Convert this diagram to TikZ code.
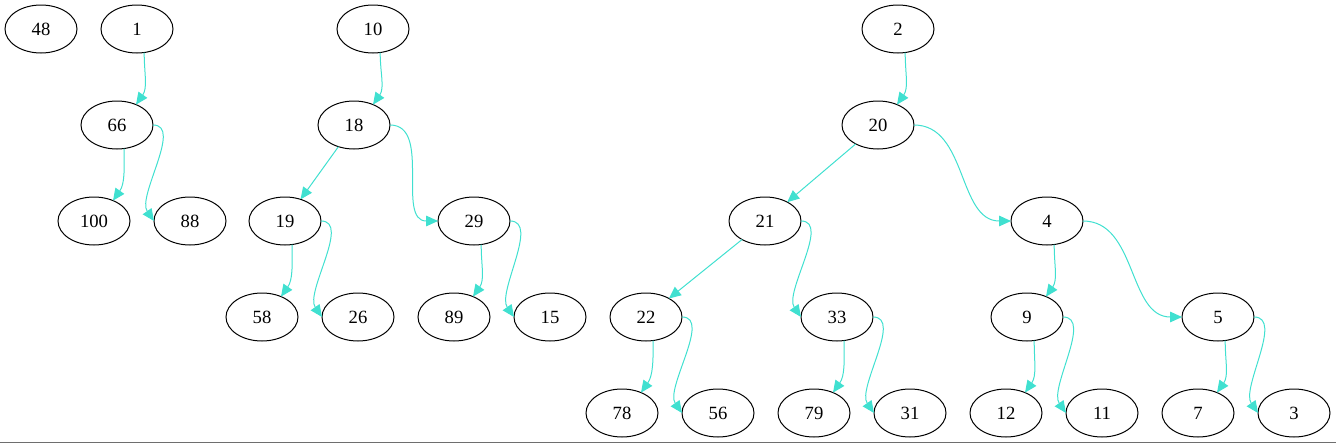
\documentclass[tikz,border=0pt]{standalone}
\usepackage{fontspec}
\setmainfont{Liberation Serif}
\usetikzlibrary{positioning,shapes.geometric,arrows.meta}
\definecolor{edgecyan}{HTML}{40E0D0}
\definecolor{framegray}{HTML}{6E6E6E}

\begin{document}
\begin{tikzpicture}[
    node distance=36pt and 18pt,
    key/.style={draw, ellipse, line width=0.75pt, minimum width=54pt, minimum height=36pt,
                inner sep=0pt, outer sep=0pt, font=\fontsize{14}{16}\selectfont},
    heaplink/.style={draw=edgecyan, line width=0.75pt, -{Triangle[length=9pt, width=8pt]}},
    tofirst/.style={out=-90, in=55},
    tonarrow/.style={out=0, in=125, looseness=0.8},
    towide/.style={out=0, in=180}
  ]
    \useasboundingbox (0,0) rectangle (1002pt,-332.25pt);

    % roots
    \node (n48) [key] at (30.75pt,-21.75pt) {48};
    \node (n1) [key, right=18pt of n48] {1};
    \node (n10) [key, right=123pt of n1] {10};
    \node (n2) [key, right=339.75pt of n10] {2};

    % tree of 1
    \node (n66) [key, below=of n1, xshift=-15pt] {66};
    \node (n100) [key, below=of n66, xshift=-17.25pt] {100};
    \node (n88) [key, below=of n66, xshift=54.75pt] {88};

    % tree of 10
    \node (n18) [key, below=of n10, xshift=-14.25pt] {18};
    \node (n19) [key, below=of n18, xshift=-51.75pt] {19};
    \node (n29) [key, below=of n18, xshift=90pt] {29};
    \node (n58) [key, below=of n19, xshift=-17.25pt] {58};
    \node (n26) [key, below=of n19, xshift=54.75pt] {26};
    \node (n89) [key, below=of n29, xshift=-15pt] {89};
    \node (n15) [key, below=of n29, xshift=57pt] {15};

    % tree of 2
    \node (n20) [key, below=of n2, xshift=-15pt] {20};
    \node (n21) [key, below=of n20, xshift=-84.75pt] {21};
    \node (n4) [key, below=of n20, xshift=126.75pt] {4};
    \node (n22) [key, below=of n21, xshift=-89.25pt] {22};
    \node (n33) [key, below=of n21, xshift=54pt] {33};
    \node (n9) [key, below=of n4, xshift=-15pt] {9};
    \node (n5) [key, below=of n4, xshift=128.25pt] {5};
    \node (n78) [key, below=of n22, xshift=-18pt] {78};
    \node (n56) [key, below=of n22, xshift=54pt] {56};
    \node (n79) [key, below=of n33, xshift=-17.25pt] {79};
    \node (n31) [key, below=of n33, xshift=54.75pt] {31};
    \node (n12) [key, below=of n9, xshift=-15.75pt] {12};
    \node (n11) [key, below=of n9, xshift=56.25pt] {11};
    \node (n7) [key, below=of n5, xshift=-15pt] {7};
    \node (n3) [key, below=of n5, xshift=57pt] {3};

    % first children
    \draw[heaplink] (n1.-73) to[tofirst] (n66.47);
    \draw[heaplink] (n66.-73) to[tofirst] (n100.47);
    \draw[heaplink] (n10.-73) to[tofirst] (n18.47);
    \draw[heaplink] (n19.-73) to[tofirst] (n58.47);
    \draw[heaplink] (n29.-73) to[tofirst] (n89.47);
    \draw[heaplink] (n2.-73) to[tofirst] (n20.47);
    \draw[heaplink] (n22.-73) to[tofirst] (n78.47);
    \draw[heaplink] (n33.-73) to[tofirst] (n79.47);
    \draw[heaplink] (n4.-73) to[tofirst] (n9.47);
    \draw[heaplink] (n9.-73) to[tofirst] (n12.47);
    \draw[heaplink] (n5.-73) to[tofirst] (n7.47);
    \draw[heaplink] (n18) -- (n19);
    \draw[heaplink] (n20) -- (n21);
    \draw[heaplink] (n21) -- (n22);

    % next siblings
    \draw[heaplink] (n66.east) to[tonarrow] (n88.west);
    \draw[heaplink] (n19.east) to[tonarrow] (n26.west);
    \draw[heaplink] (n29.east) to[tonarrow] (n15.west);
    \draw[heaplink] (n21.east) to[tonarrow] (n33.west);
    \draw[heaplink] (n22.east) to[tonarrow] (n56.west);
    \draw[heaplink] (n33.east) to[tonarrow] (n31.west);
    \draw[heaplink] (n9.east) to[tonarrow] (n11.west);
    \draw[heaplink] (n5.east) to[tonarrow] (n3.west);
    \draw[heaplink] (n18.east) to[towide] (n29.west);
    \draw[heaplink] (n20.east) to[towide] (n4.west);
    \draw[heaplink] (n4.east) to[towide] (n5.west);

    \draw[framegray, line width=0.75pt] (0,-331.5pt) -- (1002pt,-331.5pt);
\end{tikzpicture}
\end{document}
